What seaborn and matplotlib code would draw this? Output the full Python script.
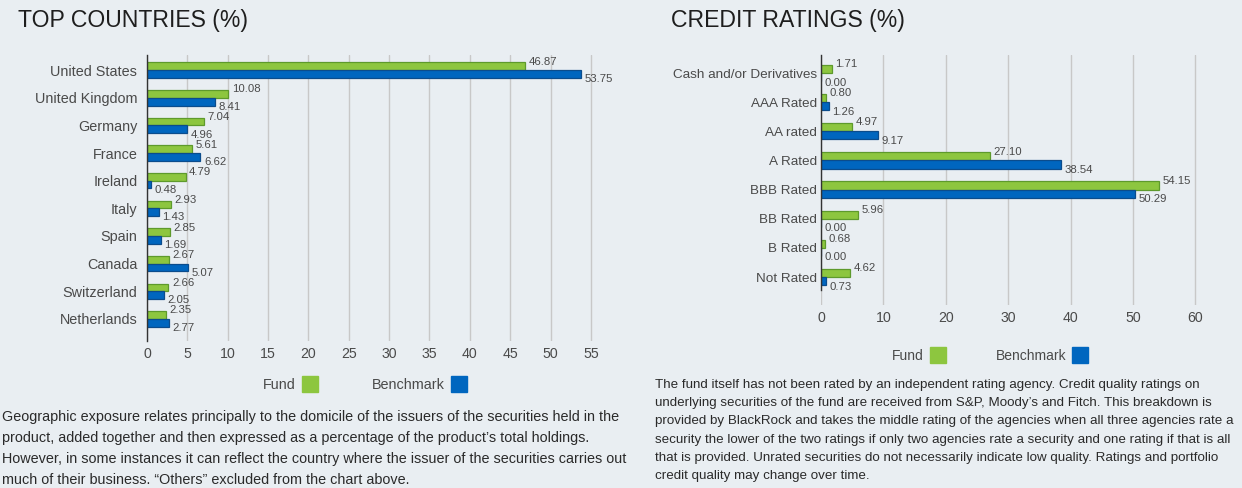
import matplotlib
matplotlib.use("Agg")
import matplotlib.pyplot as plt
import matplotlib.patches as mpatches
import seaborn as sns
import pandas as pd

# ---- data -------------------------------------------------------------
countries = ["United States", "United Kingdom", "Germany", "France", "Ireland",
             "Italy", "Spain", "Canada", "Switzerland", "Netherlands"]
country_fund = [46.87, 10.08, 7.04, 5.61, 4.79, 2.93, 2.85, 2.67, 2.66, 2.35]
country_bench = [53.75, 8.41, 4.96, 6.62, 0.48, 1.43, 1.69, 5.07, 2.05, 2.77]

ratings = ["Cash and/or Derivatives", "AAA Rated", "AA rated", "A Rated",
           "BBB Rated", "BB Rated", "B Rated", "Not Rated"]
rating_fund = [1.71, 0.80, 4.97, 27.10, 54.15, 5.96, 0.68, 4.62]
rating_bench = [0.00, 1.26, 9.17, 38.54, 50.29, 0.00, 0.00, 0.73]

series_names = ["Fund", "Benchmark"]
country_ticks = list(range(0, 56, 5))
rating_ticks = list(range(0, 61, 10))

# ---- style ------------------------------------------------------------
BG = "#e9eef2"
FUND = "#8dc63f"
FUND_EDGE = "#5e9a2c"
BENCH = "#0066bf"
BENCH_EDGE = "#0b4c8c"
TEXT = "#4a4a4a"
GRID = "#c8c8c8"

sns.set_theme(style="white")
plt.rcParams["font.family"] = ["Liberation Sans", "DejaVu Sans"]

W, H = 1242, 488
fig = plt.figure(figsize=(W / 100, H / 100), dpi=100, facecolor=BG)


def px_axes(x0, y0, x1, y1):
    """Axes placed by pixel box (left, top, right, bottom)."""
    return fig.add_axes([x0 / W, 1 - y1 / H, (x1 - x0) / W, (y1 - y0) / H])


def long_frame(cats, fund, bench):
    return pd.DataFrame({
        "category": cats + cats,
        "series": [series_names[0]] * len(cats) + [series_names[1]] * len(cats),
        "value": fund + bench,
    })


def draw_panel(ax, cats, fund, bench, ticks, xmax, ylim, spine_end, ypad,
               ysize):
    df = long_frame(cats, fund, bench)
    sns.barplot(data=df, y="category", x="value", hue="series",
                hue_order=series_names, palette=[FUND, BENCH], orient="h",
                width=0.56, saturation=1, linewidth=1, legend=False, ax=ax)
    ax.set_facecolor(BG)
    for cont, edge in zip(ax.containers, [FUND_EDGE, BENCH_EDGE]):
        for p in cont:
            p.set_edgecolor(edge)
            p.set_linewidth(0.9)

    # value labels: fund above-right, benchmark below-right
    for p, v in zip(ax.containers[0], fund):
        ax.annotate(f"{v:.2f}", xy=(v, p.get_y()), xytext=(2.5, 0.5),
                    textcoords="offset points", ha="left", va="center",
                    fontsize=8.2, color=TEXT)
    for p, v in zip(ax.containers[1], bench):
        ax.annotate(f"{v:.2f}", xy=(v, p.get_y() + p.get_height()),
                    xytext=(2.5, -1), textcoords="offset points",
                    ha="left", va="center", fontsize=8.2, color=TEXT)

    ax.set_xlim(0, xmax)
    ax.set_ylim(*ylim)
    ax.set_xticks(ticks)
    ax.set_xlabel("")
    ax.set_ylabel("")
    ax.grid(axis="x", color=GRID, linewidth=1)
    ax.grid(axis="y", visible=False)
    ax.set_axisbelow(True)
    for s in ["top", "right", "bottom"]:
        ax.spines[s].set_visible(False)
    ax.spines["left"].set_color("#333333")
    ax.spines["left"].set_linewidth(1)
    ax.spines["left"].set_bounds(ylim[1], spine_end)
    ax.tick_params(axis="x", length=0, pad=4, labelsize=10.2, labelcolor=TEXT)
    ax.tick_params(axis="y", length=0, pad=ypad, labelsize=ysize,
                   labelcolor=TEXT)


# ---- left panel: countries --------------------------------------------
ax1 = px_axes(147, 55, 147 + 57 * 8.07, 341)
draw_panel(ax1, countries, country_fund, country_bench, country_ticks,
           57, (9.8, -0.55), 9.8, 7, 10.4)

# ---- right panel: credit ratings --------------------------------------
ax2 = px_axes(821, 55, 821 + 62 * 6.24, 305)
draw_panel(ax2, ratings, rating_fund, rating_bench, rating_ticks,
           62, (7.96, -0.62), 7.45, 3, 9.7)

# ---- titles -----------------------------------------------------------
fig.text(18 / W, 1 - 21 / H, "TOP COUNTRIES (%)", fontsize=16.6,
         color="#1e1e1e", ha="left", va="center")
fig.text(671 / W, 1 - 21 / H, "CREDIT RATINGS (%)", fontsize=16.6,
         color="#1e1e1e", ha="left", va="center")

# ---- legends ----------------------------------------------------------
handles = [mpatches.Patch(facecolor=FUND, edgecolor=FUND),
           mpatches.Patch(facecolor=BENCH, edgecolor=BENCH)]
for cx, cy, fs, gap in [(365, 384, 10.4, 3.7), (990, 355, 10.0, 3.6)]:
    fig.legend(handles, series_names, loc="center",
               bbox_to_anchor=(cx / W, 1 - cy / H), ncol=2, frameon=False,
               markerfirst=False, handlelength=1.1, handleheight=1.35,
               handletextpad=0.45, columnspacing=gap, fontsize=fs,
               labelcolor=TEXT)

# ---- footnotes --------------------------------------------------------
left_note = (
    "Geographic exposure relates principally to the domicile of the issuers of the securities held in the\n"
    "product, added together and then expressed as a percentage of the product\u2019s total holdings.\n"
    "However, in some instances it can reflect the country where the issuer of the securities carries out\n"
    "much of their business. \u201cOthers\u201d excluded from the chart above."
)
right_note = (
    "The fund itself has not been rated by an independent rating agency. Credit quality ratings on\n"
    "underlying securities of the fund are received from S&P, Moody\u2019s and Fitch. This breakdown is\n"
    "provided by BlackRock and takes the middle rating of the agencies when all three agencies rate a\n"
    "security the lower of the two ratings if only two agencies rate a security and one rating if that is all\n"
    "that is provided. Unrated securities do not necessarily indicate low quality. Ratings and portfolio\n"
    "credit quality may change over time."
)
fig.text(2 / W, 1 - 410 / H, left_note, fontsize=10.4, color="#2a2a2a",
         ha="left", va="top", linespacing=1.63)
fig.text(655 / W, 1 - 379 / H, right_note, fontsize=9.6, color="#2a2a2a",
         ha="left", va="top", linespacing=1.69)

fig.savefig("out.png", dpi=100, facecolor=BG)
